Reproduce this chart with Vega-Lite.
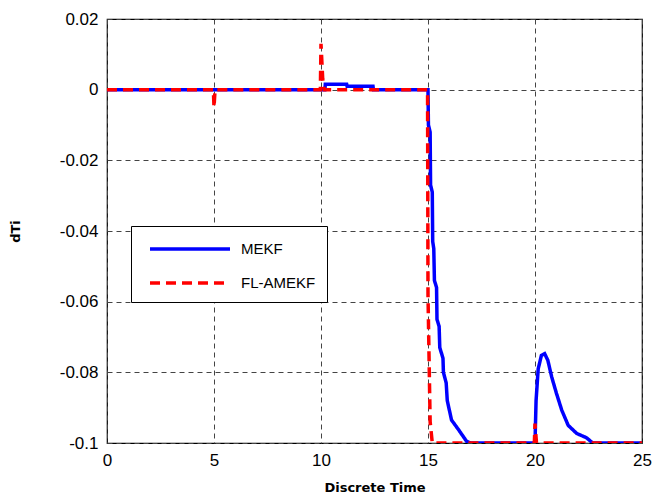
{
  "$schema": "https://vega.github.io/schema/vega-lite/v6.json",
  "autosize": {"type": "none"},
  "padding": {"left": 107, "top": 19, "right": 14, "bottom": 57},
  "width": 535,
  "height": 424,
  "background": "white",
  "config": {
    "font": "Liberation Sans",
    "view": {"stroke": "black", "strokeWidth": 1.2},
    "axis": {
      "labelFont": "Liberation Sans",
      "labelFontSize": 17,
      "labelColor": "black",
      "titleFont": "DejaVu Sans",
      "titleFontSize": 13,
      "titleFontWeight": "bold",
      "titleColor": "black",
      "grid": true,
      "gridColor": "#444",
      "gridDash": [5, 4],
      "gridWidth": 1,
      "domain": false,
      "ticks": false
    }
  },
  "data": {
    "values": [
      {"t": 0, "v": 0, "s": "MEKF"},
      {"t": 10.18, "v": 0, "s": "MEKF"},
      {"t": 10.2, "v": 0.0015, "s": "MEKF"},
      {"t": 11.2, "v": 0.0015, "s": "MEKF"},
      {"t": 11.22, "v": 0.001, "s": "MEKF"},
      {"t": 12.43, "v": 0.001, "s": "MEKF"},
      {"t": 12.45, "v": 0, "s": "MEKF"},
      {"t": 15.0, "v": 0, "s": "MEKF"},
      {"t": 15.02, "v": -0.01, "s": "MEKF"},
      {"t": 15.1, "v": -0.012, "s": "MEKF"},
      {"t": 15.12, "v": -0.027, "s": "MEKF"},
      {"t": 15.2, "v": -0.029, "s": "MEKF"},
      {"t": 15.22, "v": -0.043, "s": "MEKF"},
      {"t": 15.27, "v": -0.045, "s": "MEKF"},
      {"t": 15.3, "v": -0.054, "s": "MEKF"},
      {"t": 15.4, "v": -0.056, "s": "MEKF"},
      {"t": 15.42, "v": -0.065, "s": "MEKF"},
      {"t": 15.52, "v": -0.067, "s": "MEKF"},
      {"t": 15.55, "v": -0.073, "s": "MEKF"},
      {"t": 15.7, "v": -0.076, "s": "MEKF"},
      {"t": 15.72, "v": -0.08, "s": "MEKF"},
      {"t": 15.85, "v": -0.083, "s": "MEKF"},
      {"t": 15.9, "v": -0.088, "s": "MEKF"},
      {"t": 16.1, "v": -0.0935, "s": "MEKF"},
      {"t": 16.4, "v": -0.096, "s": "MEKF"},
      {"t": 16.8, "v": -0.0995, "s": "MEKF"},
      {"t": 17.0, "v": -0.1, "s": "MEKF"},
      {"t": 20.0, "v": -0.1, "s": "MEKF"},
      {"t": 20.05, "v": -0.088, "s": "MEKF"},
      {"t": 20.15, "v": -0.079, "s": "MEKF"},
      {"t": 20.3, "v": -0.0752, "s": "MEKF"},
      {"t": 20.45, "v": -0.0747, "s": "MEKF"},
      {"t": 20.6, "v": -0.0766, "s": "MEKF"},
      {"t": 20.78, "v": -0.0813, "s": "MEKF"},
      {"t": 21.0, "v": -0.0859, "s": "MEKF"},
      {"t": 21.25, "v": -0.0907, "s": "MEKF"},
      {"t": 21.55, "v": -0.095, "s": "MEKF"},
      {"t": 21.95, "v": -0.0973, "s": "MEKF"},
      {"t": 22.4, "v": -0.0985, "s": "MEKF"},
      {"t": 22.7, "v": -0.1, "s": "MEKF"},
      {"t": 25, "v": -0.1, "s": "MEKF"},
      {"t": 0, "v": 0, "s": "FL-AMEKF"},
      {"t": 4.97, "v": 0, "s": "FL-AMEKF"},
      {"t": 5.0, "v": -0.005, "s": "FL-AMEKF"},
      {"t": 5.05, "v": 0, "s": "FL-AMEKF"},
      {"t": 9.97, "v": 0, "s": "FL-AMEKF"},
      {"t": 10.0, "v": 0.013, "s": "FL-AMEKF"},
      {"t": 10.08, "v": 0.003, "s": "FL-AMEKF"},
      {"t": 10.15, "v": 0, "s": "FL-AMEKF"},
      {"t": 14.98, "v": 0, "s": "FL-AMEKF"},
      {"t": 15.0, "v": -0.058, "s": "FL-AMEKF"},
      {"t": 15.1, "v": -0.094, "s": "FL-AMEKF"},
      {"t": 15.2, "v": -0.1, "s": "FL-AMEKF"},
      {"t": 19.97, "v": -0.1, "s": "FL-AMEKF"},
      {"t": 20.0, "v": -0.0945, "s": "FL-AMEKF"},
      {"t": 20.07, "v": -0.1, "s": "FL-AMEKF"},
      {"t": 25, "v": -0.1, "s": "FL-AMEKF"}
    ]
  },
  "mark": {"type": "line", "strokeWidth": 3.5, "clip": true},
  "encoding": {
    "x": {
      "field": "t", "type": "quantitative",
      "scale": {"domain": [0, 25], "nice": false, "zero": false},
      "axis": {"values": [0, 5, 10, 15, 20, 25], "title": "Discrete Time", "labelPadding": 9, "titlePadding": 13, "labelFlush": false}
    },
    "y": {
      "field": "v", "type": "quantitative",
      "scale": {"domain": [-0.1, 0.02], "nice": false, "zero": false},
      "axis": {
        "values": [-0.1, -0.08, -0.06, -0.04, -0.02, 0, 0.02],
        "title": "dTi",
        "labelPadding": 9,
        "titlePadding": 37,
        "labelFlush": false,
        "labelExpr": "datum.value == 0 ? '0' : replace(format(datum.value, '.2~f'), '\u2212', '-')"
      }
    },
    "color": {
      "field": "s", "type": "nominal",
      "scale": {"domain": ["MEKF", "FL-AMEKF"], "range": ["#0000ff", "#ff0000"]},
      "legend": {
        "title": null,
        "orient": "none",
        "legendX": 24,
        "legendY": 207,
        "symbolType": "M-0.4,0H7.6",
        "symbolSize": 400,
        "symbolStrokeWidth": 3.5,
        "labelFontSize": 15,
        "labelColor": "black",
        "labelFont": "Liberation Sans",
        "labelOffset": 75,
        "rowPadding": 14,
        "strokeColor": "black",
        "fillColor": "white",
        "padding": 11
      }
    },
    "strokeDash": {
      "field": "s", "type": "nominal",
      "scale": {"domain": ["MEKF", "FL-AMEKF"], "range": [[1, 0], [10, 6]]},
      "legend": null
    },
    "order": {"field": "t", "type": "quantitative"}
  }
}
